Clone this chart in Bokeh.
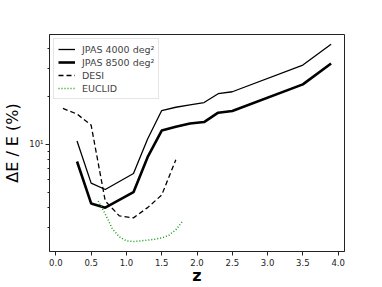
from bokeh.plotting import figure
from bokeh.models import Range1d, FixedTicker, Legend, LegendItem
from bokeh.embed import file_html
from bokeh.resources import INLINE

# ---- data ----
z_jpas = [0.3, 0.5, 0.7, 1.1, 1.3, 1.5, 1.7, 1.9, 2.1, 2.3, 2.5, 3.5, 3.9]
jpas_4000 = [10.5, 5.7, 5.2, 6.55, 10.8, 16.3, 17.1, 17.7, 18.3, 20.8, 21.4, 31.5, 42.5]
jpas_8500 = [7.8, 4.25, 4.0, 5.0, 8.3, 12.2, 12.9, 13.5, 13.8, 15.8, 16.2, 23.8, 32.2]

z_desi = [0.1, 0.3, 0.5, 0.7, 0.9, 1.1, 1.3, 1.5, 1.7]
desi = [16.8, 15.5, 13.2, 4.4, 3.55, 3.45, 4.0, 4.8, 8.0]

z_euclid = [0.6, 0.7, 0.8, 0.9, 1.0, 1.1, 1.2, 1.3, 1.4, 1.5, 1.6, 1.7, 1.8]
euclid = [4.4, 3.65, 2.95, 2.62, 2.47, 2.45, 2.47, 2.5, 2.53, 2.58, 2.68, 2.9, 3.3]

x_ticks = [0.0, 0.5, 1.0, 1.5, 2.0, 2.5, 3.0, 3.5, 4.0]
x_tick_labels = ["0.0", "0.5", "1.0", "1.5", "2.0", "2.5", "3.0", "3.5", "4.0"]
y_major = [10]
y_minor = [3, 4, 5, 6, 7, 8, 9, 20, 30, 40]
labels = ["JPAS 4000 deg²", "JPAS 8500 deg²", "DESI", "EUCLID"]

FONT = "DejaVu Sans"

p = figure(width=382, height=287, output_backend="svg", toolbar_location=None,
           y_axis_type="log",
           x_range=Range1d(-0.09, 4.09), y_range=Range1d(2.12, 49.0),
           min_border_left=47, min_border_right=38, min_border_top=34,
           min_border_bottom=32)
p.background_fill_color = "white"
p.border_fill_color = "white"
p.outline_line_color = "#222222"
p.outline_line_width = 1
p.xgrid.visible = False
p.ygrid.visible = False

r1 = p.line(z_jpas, jpas_4000, line_color="black", line_width=1.3)
r2 = p.line(z_jpas, jpas_8500, line_color="black", line_width=2.6)
r3 = p.line(z_desi, desi, line_color="black", line_width=1.3, line_dash="5 3")
r4 = p.line(z_euclid, euclid, line_color="#119911", line_width=1.5, line_dash="1 2")

xa = p.xaxis[0]
xa.ticker = FixedTicker(ticks=x_ticks)
xa.major_label_overrides = {t: l for t, l in zip(x_ticks, x_tick_labels)}
xa.axis_label = "z"
xa.axis_label_text_font = FONT
xa.axis_label_text_font_style = "bold"
xa.axis_label_text_font_size = "16px"
xa.axis_label_standoff = -3
xa.major_label_text_font = FONT
xa.major_label_text_font_size = "8.5px"
xa.major_label_standoff = 3
xa.major_tick_out = 4
xa.major_tick_in = 0
xa.minor_tick_out = 0
xa.minor_tick_in = 0

ya = p.yaxis[0]
ya.ticker = FixedTicker(ticks=y_major, minor_ticks=y_minor)
ya.major_label_overrides = {10: "10¹"}
ya.axis_label = "ΔE / E (%)"
ya.axis_label_text_font = FONT
ya.axis_label_text_font_style = "normal"
ya.axis_label_text_font_size = "16px"
ya.axis_label_standoff = 4
ya.major_label_text_font = FONT
ya.major_label_text_font_size = "8.5px"
ya.major_label_standoff = 2
ya.major_tick_out = 4
ya.major_tick_in = 0
ya.minor_tick_out = 2
ya.minor_tick_in = 0

for ax in (xa, ya):
    ax.axis_line_color = "#222222"
    ax.major_tick_line_color = "#222222"
    ax.minor_tick_line_color = "#222222"
    ax.major_label_text_color = "#222222"
    ax.axis_label_text_color = "black"

legend = Legend(items=[LegendItem(label=labels[0], renderers=[r1]),
                       LegendItem(label=labels[1], renderers=[r2]),
                       LegendItem(label=labels[2], renderers=[r3]),
                       LegendItem(label=labels[3], renderers=[r4])],
                location="top_left")
legend.margin = 4
legend.padding = 4
legend.spacing = 1
legend.glyph_width = 17
legend.glyph_height = 12
legend.label_height = 12
legend.label_standoff = 7
legend.label_text_font = FONT
legend.label_text_font_size = "9.5px"
legend.border_line_color = "#cccccc"
legend.border_line_width = 1
legend.background_fill_alpha = 0.9
p.add_layout(legend)

open("out.html", "w").write(file_html(p, INLINE))
